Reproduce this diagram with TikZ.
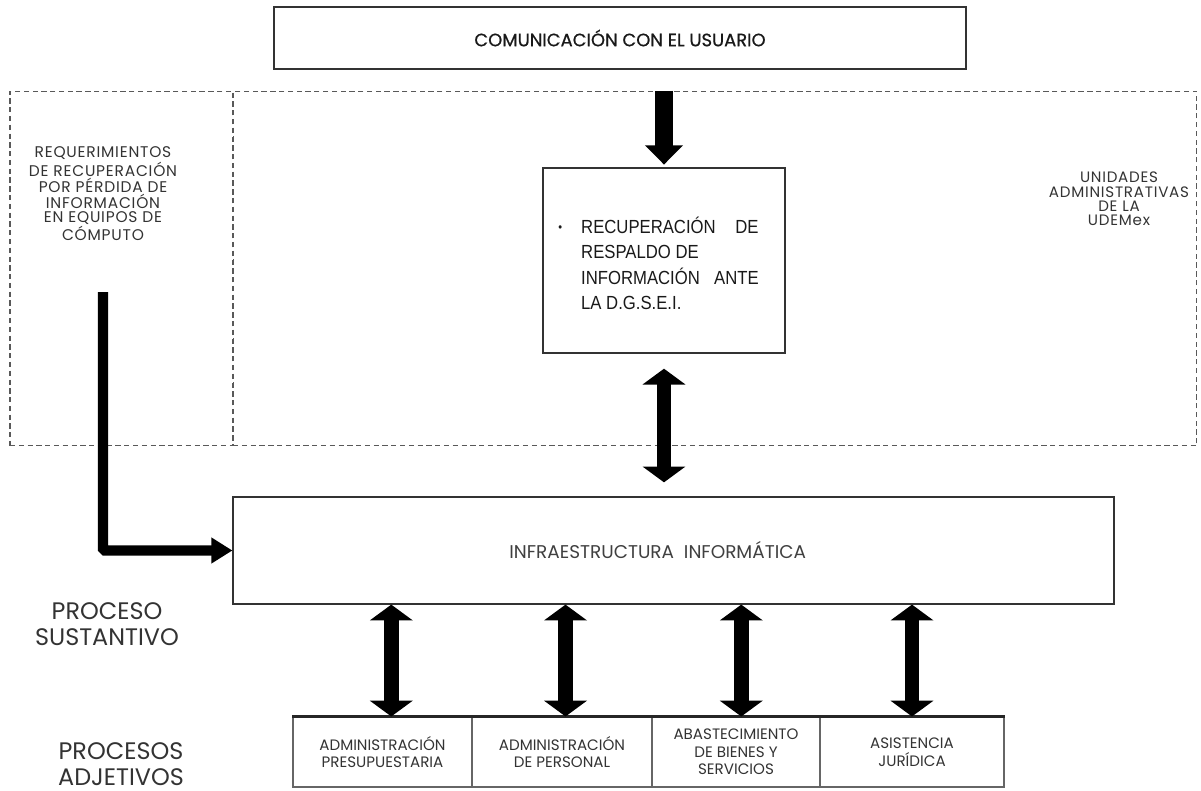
\documentclass[tikz,border=0pt]{standalone}
\usepackage{fontspec}
\setmainfont{Poppins}
\newfontfamily\ancha[LetterSpace=5]{Poppins}
\newfontfamily\media[FakeBold=0.7]{Poppins}
\newfontfamily\arialfont[FakeStretch=0.88]{Liberation Sans}
\usetikzlibrary{arrows.meta}
\usetikzlibrary{positioning}

\tikzset{
  caja/.style={draw=black!80, line width=0.9pt, inner sep=0pt},
  zona/.style={draw=black!65, line width=0.6pt, dash pattern=on 3pt off 2pt, inner sep=0pt},
  celda/.style={draw=black!60, line width=0.6pt, inner sep=0pt, minimum height=1.4cm,
    align=center, font=\fontsize{8.6}{10}\selectfont, text=black!80},
  etiqueta/.style={align=center, text=black!80},
  bajada/.style={line width=10pt, -{Triangle[width=21pt,length=11pt]}},
  doble/.style={line width=8.5pt, {Triangle[width=24pt,length=9pt]}-{Triangle[width=24pt,length=9pt]}},
  codo/.style={line width=5.7pt, rounded corners=1pt, -{Triangle[width=14pt,length=12pt]}}
}

\begin{document}
\begin{tikzpicture}[x=0.02cm, y=-0.02cm]
  \useasboundingbox (0,0) rectangle (1201,791);

  % recuadros punteados
  \node[zona, minimum width=4.46cm, minimum height=7.1cm] (izq) at (121.5,268.5) {};
  \node[zona, minimum width=19.28cm, minimum height=7.1cm] (der) at (715,268.5) {};

  \node[caja, minimum width=13.84cm, minimum height=1.24cm,
        font=\media\fontsize{10.2}{12}\selectfont, text=black!90] (usuario) at (620,38) {COMUNICACIÓN CON EL USUARIO};

  \node[caja, minimum width=4.84cm, minimum height=3.7cm] (recup) at (664,260.5) {};
  \node[anchor=north west, inner sep=0pt, font=\arialfont\fontsize{10.8}{14.5}\selectfont, text=black!90]
    (recuptxt) at (558,215) {%
      \begin{tabular}{@{}p{12pt}@{\hspace{1pt}}l@{}}
        \raisebox{1pt}{\scriptsize\textbullet} &
        \parbox[t]{101pt}{\makebox[101pt][s]{RECUPERACIÓN\hfill DE}\\
          RESPALDO DE\\
          \makebox[101pt][s]{INFORMACIÓN\hfill ANTE}\\
          LA D.G.S.E.I.}
      \end{tabular}};

  \node[caja, line width=0.7pt, minimum width=17.62cm, minimum height=2.14cm,
        font=\fontsize{10.5}{12}\selectfont, text=black!75] (infra) at (673.5,550.5)
        {INFRAESTRUCTURA\ \ INFORMÁTICA\hspace*{18pt}};

  \node[etiqueta, font=\ancha\fontsize{8.8}{8.1}\selectfont] (reqtxt) at (103,194)
    {REQUERIMIENTOS\\DE RECUPERACIÓN\\POR PÉRDIDA DE\\INFORMACIÓN\\EN EQUIPOS DE\\CÓMPUTO};
  \node[etiqueta, font=\ancha\fontsize{8.6}{8.1}\selectfont] (udemex) at (1119,199)
    {UNIDADES\\ADMINISTRATIVAS\\DE LA\\UDEMex};

  \node[etiqueta, font=\fontsize{13.6}{14.7}\selectfont] (sustantivo) at (107,624) {PROCESO\\SUSTANTIVO};
  \node[etiqueta, font=\fontsize{13.6}{14.7}\selectfont] (adjetivos) at (121,764) {PROCESOS\\ADJETIVOS};

  % procesos adjetivos
  \node[celda, minimum width=3.58cm] (presup) at (382.5,752) {ADMINISTRACIÓN\\PRESUPUESTARIA};
  \node[celda, minimum width=3.6cm] (personal) at (562,752) {ADMINISTRACIÓN\\DE PERSONAL};
  \node[celda, minimum width=3.36cm] (abasto) at (736,752) {ABASTECIMIENTO\\DE BIENES Y\\SERVICIOS};
  \node[celda, minimum width=3.68cm] (juridica) at (912,752) {ASISTENCIA\\JURÍDICA};
  \draw[line width=1.6pt, black!85] (presup.north west) -- (juridica.north east);

  % flechas
  \draw[bajada, shorten <=12pt, shorten >=1.5pt] (recup.north |- usuario.south) -- (recup.north);
  \draw[doble, shorten <=8.5pt, shorten >=8pt] (recup.south) -- (infra.north -| recup.south);
  \foreach \c/\dx in {presup/5pt, personal/2pt, abasto/3pt, juridica/0pt}
    \draw[doble] ([xshift=\dx]infra.south -| \c.north) -- ([xshift=\dx]\c.north);

  \coordinate (reqend) at (103,292);
  \draw[codo] (reqend) |- (infra.west);
\end{tikzpicture}
\end{document}
